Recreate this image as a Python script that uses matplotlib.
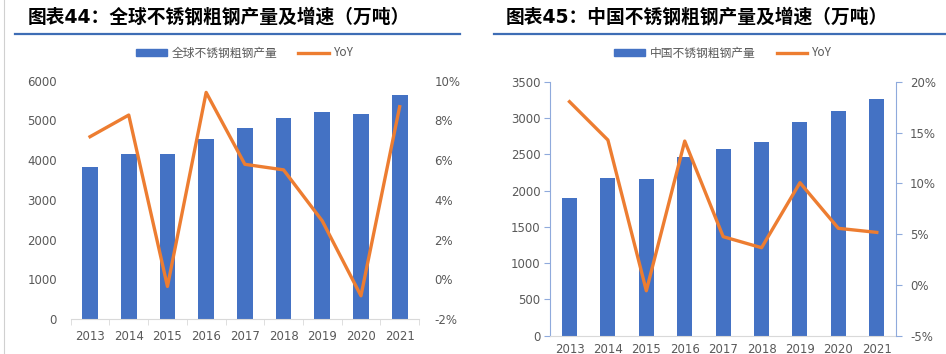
import matplotlib
matplotlib.use('Agg')
import matplotlib.pyplot as plt
from matplotlib.ticker import FuncFormatter
from matplotlib.lines import Line2D
from matplotlib.patches import Patch

plt.rcParams['font.family'] = ['DejaVu Sans', 'Noto Sans CJK SC']

years = ['2013', '2014', '2015', '2016', '2017', '2018', '2019', '2020', '2021']

# 全球
world_output = [3838, 4165, 4148, 4542, 4818, 5070, 5221, 5170, 5640]
world_yoy = [7.18, 8.27, -0.36, 9.41, 5.79, 5.51, 2.94, -0.83, 8.69]

# 中国
china_output = [1899, 2171, 2157, 2461, 2580, 2677, 2948, 3104, 3270]
china_yoy = [18.06, 14.28, -0.57, 14.18, 4.76, 3.67, 10.08, 5.58, 5.18]

BLUE = '#4472C4'
ORANGE = '#ED7D31'
GRAY = '#595959'
AXGRAY = '#D9D9D9'

fig = plt.figure(figsize=(9.46, 3.54), dpi=100)


def panel(rect, bar_name, bars, yoy, ylim, ystep, rlim, rstep, barw, side_spines, lab_pad):
    ax = fig.add_axes(rect)
    x = range(len(years))
    ax.bar(x, bars, width=barw, color=BLUE, zorder=2)
    ax.set_xlim(-0.5, len(years) - 0.5)
    ax.set_ylim(*ylim)
    ax.set_yticks(range(ylim[0], ylim[1] + 1, ystep))
    ax.set_xticks(list(x))
    ax.set_xticklabels(years)
    ax.tick_params(axis='x', length=0, pad=lab_pad, labelsize=8.5, labelcolor=GRAY)
    for s in ['top', 'right']:
        ax.spines[s].set_visible(False)
    ax.spines['bottom'].set_color(AXGRAY)
    if side_spines:
        ax.spines['left'].set_color('#8FAADC')
        ax.tick_params(axis='y', length=4, color='#8FAADC', pad=3, labelsize=8.5, labelcolor=GRAY)
    else:
        ax.spines['left'].set_visible(False)
        ax.tick_params(axis='y', length=0, pad=10, labelsize=8.5, labelcolor=GRAY)
        # category separator ticks
        ax.set_xticks([i + 0.5 for i in range(-1, len(years))], minor=True)
        ax.tick_params(axis='x', which='minor', length=4, color=AXGRAY)

    ax2 = ax.twinx()
    ax2.plot(list(x), yoy, color=ORANGE, lw=2.4, zorder=3)
    ax2.set_ylim(*rlim)
    ticks = []
    v = rlim[0]
    while v <= rlim[1]:
        ticks.append(v)
        v += rstep
    ax2.set_yticks(ticks)
    ax2.yaxis.set_major_formatter(FuncFormatter(lambda v, p: '%d%%' % v))
    for s in ['top', 'left', 'bottom']:
        ax2.spines[s].set_visible(False)
    if side_spines:
        ax2.spines['right'].set_color('#8FAADC')
        ax2.tick_params(axis='y', length=4, color='#8FAADC', pad=6, labelsize=8.5, labelcolor=GRAY)
    else:
        ax2.spines['right'].set_visible(False)
        ax2.tick_params(axis='y', length=0, pad=11, labelsize=8.5, labelcolor=GRAY)

    handles = [Patch(color=BLUE, label=bar_name), Line2D([], [], color=ORANGE, lw=2.4, label='YoY')]
    cx = rect[0] + rect[2] / 2
    fig.legend(handles=handles, loc='center', bbox_to_anchor=(cx, 1 - 53 / 354), ncol=2,
               frameon=False, prop={'family': ['Noto Sans CJK SC'], 'size': 8.5},
               labelcolor=GRAY, handlelength=2.6, handleheight=0.6,
               columnspacing=1.8, handletextpad=0.4)
    return ax


panel([70.7 / 946, 1 - 319 / 354, 348.3 / 946, 238.3 / 354],
      '全球不锈钢粗钢产量', world_output, world_yoy, (0, 6000), 1000, (-2, 10), 2, 0.41, False, 8)
panel([550.3 / 946, 1 - 335.7 / 354, 345.7 / 946, 253.7 / 354],
      '中国不锈钢粗钢产量', china_output, china_yoy, (0, 3500), 500, (-5, 20), 5, 0.39, True, 5)

# titles and rules
fig.text(28 / 946, 1 - 17 / 354, '图表44：全球不锈钢粗钢产量及增速（万吨）', fontsize=13.5,
         fontweight='bold', va='center', ha='left', color='black')
fig.text(506 / 946, 1 - 17 / 354, '图表45：中国不锈钢粗钢产量及增速（万吨）', fontsize=13.5,
         fontweight='bold', va='center', ha='left', color='black')
fig.add_artist(Line2D([15 / 946, 460 / 946], [1 - 34 / 354] * 2, color='#3E6DB5', lw=1.6))
fig.add_artist(Line2D([494 / 946, 1.0], [1 - 34 / 354] * 2, color='#3E6DB5', lw=1.6))
fig.add_artist(Line2D([3.5 / 946] * 2, [0, 1], color='#D0D0D0', lw=0.8))

fig.savefig('out.png', dpi=100)
